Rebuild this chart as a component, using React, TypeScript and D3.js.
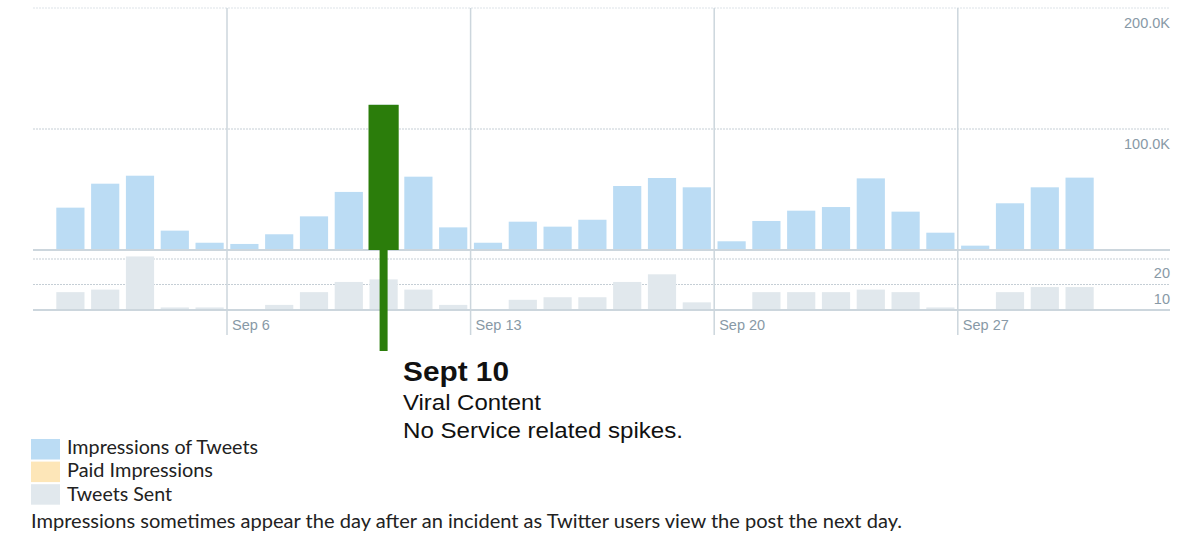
import React from "react";
import * as d3 from "d3";

const days: string[] = Array.from({ length: 30 }, (_, i) => `2015-09-${String(i + 1).padStart(2, "0")}`);
const impressions: number[] = [
  35000, 54800, 61400, 16000, 6000,
  5000, 13000, 27800, 48000, 120000, 60600, 18700,
  6000, 23400, 19300, 25000, 52900, 59500, 51800,
  7200, 24000, 32500, 35500, 59200, 31700, 14300,
  3600, 38600, 51800, 59800,
];
const tweetsSent: number[] = [
  7, 8, 21, 1, 1,
  0.4, 2, 7, 11, 12, 8, 2,
  0.4, 4, 5, 5, 11, 14, 3,
  0.4, 7, 7, 7, 8, 7, 1,
  0.4, 7, 9, 9,
];
const highlightDay = "2015-09-10";
const weekTicks: string[] = ["2015-09-06", "2015-09-13", "2015-09-20", "2015-09-27"];
const weekLabels: string[] = ["Sep 6", "Sep 13", "Sep 20", "Sep 27"];
const impTicks: number[] = [100000, 200000];
const impTickLabels: string[] = ["100.0K", "200.0K"];
const tweetTicks: number[] = [10, 20];
const tweetTickLabels: string[] = ["10", "20"];
const legendItems: string[] = ["Impressions of Tweets", "Paid Impressions", "Tweets Sent"];
const legendColors: string[] = ["#bbdcf4", "#fde6b8", "#e1e8ed"];
const legendWidths: number[] = [191, 146, 105];
const annotationTitle = "Sept 10";
const annotationLines: string[] = ["Viral Content", "No Service related spikes."];
const footnote = "Impressions sometimes appear the day after an incident as Twitter users view the post the next day.";

const W = 1177;
const H = 538;
const parse = d3.timeParse("%Y-%m-%d");

export default function App() {
  const x = d3.scaleBand<string>().domain(days).range([53, 1097]).paddingInner(0.19).paddingOuter(0.095);
  const xt = d3.scaleTime().domain([parse("2015-09-01")!, parse("2015-10-01")!]).range([53, 1097]);
  const yImp = d3.scaleLinear().domain([0, 200000]).range([250, 8]);
  const yTw = d3.scaleLinear().domain([0, 20]).range([310, 259]);
  const gridX0 = 33;
  const gridX1 = 1170;
  const axisColor = "#8899a6";
  const lineColor = "#ccd6dd";
  const green = "#2b7d0b";
  const hiIdx = days.indexOf(highlightDay);
  const hx = x(highlightDay)!;
  const hcx = hx + x.bandwidth() / 2;
  const labelFont = "'Liberation Sans', Arial, sans-serif";
  const legendFont = "Lato, 'Open Sans', sans-serif";

  return (
    <svg width={W} height={H} style={{ position: "absolute", left: 0, top: 0, background: "#fff" }}>
      {impTicks.map((t) => (
        <line key={"gi" + t} x1={gridX0} x2={gridX1} y1={yImp(t)} y2={yImp(t)} stroke={t === 200000 ? "#dde3e8" : "#c5ced5"} strokeWidth={1} strokeDasharray="2,1" />
      ))}
      {tweetTicks.map((t) => (
        <line key={"gt" + t} x1={gridX0} x2={gridX1} y1={yTw(t)} y2={yTw(t)} stroke="#c5ced5" strokeWidth={1} strokeDasharray="2,1" />
      ))}
      {weekTicks.map((d) => (
        <line key={"w" + d} x1={xt(parse(d)!)} x2={xt(parse(d)!)} y1={8} y2={335} stroke={lineColor} strokeWidth={1.5} />
      ))}
      {days.map((d, i) => (
        <rect key={"b" + d} x={x(d)} y={yImp(impressions[i])} width={x.bandwidth()} height={yImp(0) - yImp(impressions[i])} fill="#bbdcf4" />
      ))}
      {days.map((d, i) => (
        <rect key={"t" + d} x={x(d)} y={yTw(tweetsSent[i])} width={x.bandwidth()} height={yTw(0) - yTw(tweetsSent[i])} fill="#e1e8ed" />
      ))}
      <line x1={gridX0} x2={gridX1} y1={yImp(0)} y2={yImp(0)} stroke={lineColor} strokeWidth={2} />
      <line x1={gridX0} x2={gridX1} y1={yTw(0)} y2={yTw(0)} stroke={lineColor} strokeWidth={2} />
      <rect x={hx - 1} y={yImp(impressions[hiIdx])} width={x.bandwidth() + 2} height={yImp(0) - yImp(impressions[hiIdx])} fill={green} />
      <rect x={hcx - 4} y={yImp(0)} width={8} height={351 - yImp(0)} fill={green} />
      {impTicks.map((t, i) => (
        <text key={"li" + t} x={1170} y={yImp(t) + 20} textAnchor="end" fontFamily={labelFont} fontSize={14.5} fill={axisColor}>{impTickLabels[i]}</text>
      ))}
      {tweetTicks.map((t, i) => (
        <text key={"lt" + t} x={1170} y={yTw(t) + 19} textAnchor="end" fontFamily={labelFont} fontSize={14.5} fill={axisColor}>{tweetTickLabels[i]}</text>
      ))}
      {weekTicks.map((d, i) => (
        <text key={"dl" + d} x={xt(parse(d)!) + 5} y={329.5} fontFamily={labelFont} fontSize={14.5} fill={axisColor}>{weekLabels[i]}</text>
      ))}
      <text x={403} y={381} fontFamily={labelFont} fontWeight="bold" fontSize={27} fill="#111" textLength={106} lengthAdjust="spacingAndGlyphs">{annotationTitle}</text>
      {annotationLines.map((s, i) => (
        <text key={"an" + i} x={403} y={410 + i * 28} fontFamily={labelFont} fontSize={21.5} fill="#111" textLength={i === 0 ? 138 : 280} lengthAdjust="spacingAndGlyphs">{s}</text>
      ))}
      {legendItems.map((s, i) => (
        <g key={"lg" + i}>
          <rect x={31} y={439 + i * 22.6} width={29} height={20.5} fill={legendColors[i]} />
          <text x={67} y={453.5 + i * 23.9} fontFamily={legendFont} fontSize={18.5} fill="#222" textLength={legendWidths[i]} lengthAdjust="spacingAndGlyphs">{s}</text>
        </g>
      ))}
      <text x={31} y={528} fontFamily={legendFont} fontSize={18.5} fill="#222" textLength={871} lengthAdjust="spacingAndGlyphs">{footnote}</text>
    </svg>
  );
}
